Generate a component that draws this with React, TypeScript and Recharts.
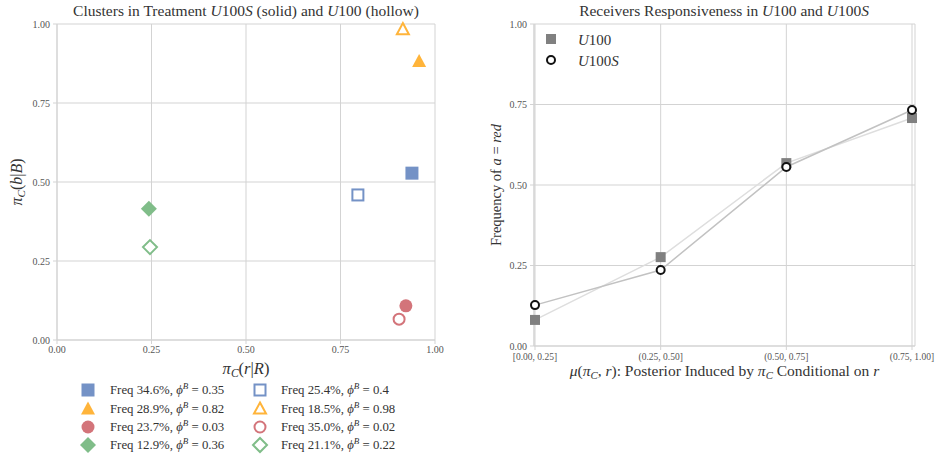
import React from 'react';
import { ScatterChart, Scatter, LineChart, Line, XAxis, YAxis, CartesianGrid, Label } from 'recharts';

const FONT = 'Liberation Serif, DejaVu Serif, serif';
const GRID = '#d3d3d3';
const TICK = { fontSize: 10, fill: '#555', style: { fontFamily: FONT } };
const TXT = { fontFamily: FONT };

// left panel: clusters
const clusterColors = ['#7492c6', '#ffb43a', '#d3747a', '#80bd89'];
const clusterShapes = ['square', 'triangle', 'circle', 'diamond'];
const solidX = [0.939, 0.958, 0.923, 0.243];
const solidY = [0.528, 0.883, 0.108, 0.415];
const hollowX = [0.796, 0.915, 0.905, 0.246];
const hollowY = [0.459, 0.984, 0.066, 0.294];
const solidFreq = ['34.6%', '28.9%', '23.7%', '12.9%'];
const solidPhi = ['0.35', '0.82', '0.03', '0.36'];
const hollowFreq = ['25.4%', '18.5%', '35.0%', '21.1%'];
const hollowPhi = ['0.4', '0.98', '0.02', '0.22'];
const unitTicks = [0, 0.25, 0.5, 0.75, 1];

// right panel: responsiveness
const bins = ['[0.00, 0.25]', '(0.25, 0.50]', '(0.50, 0.75]', '(0.75, 1.00]'];
const u100 = [0.081, 0.276, 0.568, 0.708];
const u100s = [0.127, 0.236, 0.556, 0.733];

const respData = bins.map((b, i) => ({ bin: b, u100: u100[i], u100s: u100s[i] }));

const Marker = ({ cx, cy, shape, color, hollow }: any) => {
  const fill = hollow ? '#fff' : color;
  const sw = hollow ? 2 : 0;
  if (shape === 'square') {
    const h = hollow ? 5.5 : 6.5;
    return <rect x={cx - h} y={cy - h} width={h * 2} height={h * 2} fill={fill} stroke={color} strokeWidth={sw} />;
  }
  if (shape === 'triangle') {
    const h = hollow ? 6 : 7;
    return <polygon points={`${cx},${cy - h} ${cx + h},${cy + h * 0.85} ${cx - h},${cy + h * 0.85}`} fill={fill} stroke={color} strokeWidth={sw} />;
  }
  if (shape === 'circle') {
    return <circle cx={cx} cy={cy} r={hollow ? 5.5 : 6.5} fill={fill} stroke={color} strokeWidth={sw} />;
  }
  const h = hollow ? 7 : 8;
  return <polygon points={`${cx},${cy - h} ${cx + h},${cy} ${cx},${cy + h} ${cx - h},${cy}`} fill={fill} stroke={color} strokeWidth={sw} />;
};

const fmt = (v: number) => v.toFixed(2);

// π with subscript C, followed by text put back on the baseline
const PiC = ({ size, after }: any) => (
  <>
    <tspan fontStyle="italic">π</tspan>
    <tspan fontStyle="italic" fontSize={size * 0.7} dy={3}>C</tspan>
    <tspan dy={-3}>{after}</tspan>
  </>
);

const LeftXLabel = ({ viewBox }: any) => {
  const x = viewBox.x + viewBox.width / 2;
  return (
    <text x={x} y={viewBox.y + 34} textAnchor="middle" fontSize={16.5} style={TXT} fill="#333">
      <PiC size={16.5} after="(" /><tspan fontStyle="italic">r</tspan>|<tspan fontStyle="italic">R</tspan>)
    </text>
  );
};

const LeftYLabel = ({ viewBox }: any) => {
  const cy = viewBox.y + viewBox.height / 2;
  return (
    <text x={22} y={cy} transform={`rotate(-90 22 ${cy})`} textAnchor="middle" fontSize={16} style={TXT} fill="#333">
      <PiC size={16} after="(" /><tspan fontStyle="italic">b</tspan>|<tspan fontStyle="italic">B</tspan>)
    </text>
  );
};

const RightXLabel = ({ viewBox }: any) => {
  const x = viewBox.x + viewBox.width / 2;
  return (
    <text x={x} y={viewBox.y + 30} textAnchor="middle" fontSize={15.5} style={TXT} fill="#333">
      <tspan fontStyle="italic">μ</tspan>(<PiC size={15.5} after=", " /><tspan fontStyle="italic">r</tspan>): Posterior Induced by <PiC size={15.5} after=" Conditional on " /><tspan fontStyle="italic">r</tspan>
    </text>
  );
};

const RightYLabel = ({ viewBox }: any) => {
  const cy = viewBox.y + viewBox.height / 2;
  return (
    <text x={31} y={cy} transform={`rotate(-90 31 ${cy})`} textAnchor="middle" fontSize={14.5} style={TXT} fill="#333">
      Frequency of <tspan fontStyle="italic">a</tspan> = <tspan fontStyle="italic">red</tspan>
    </text>
  );
};

const LegendText = ({ x, y, freq, phi }: any) => (
  <text x={x} y={y} fontSize={12.8} style={TXT} fill="#333">
    Freq {freq}, <tspan fontStyle="italic">ϕ</tspan><tspan fontStyle="italic" fontSize={9} dy={-5}>B</tspan><tspan dy={5}> = {phi}</tspan>
  </text>
);

const Squarish = (props: any) => {
  const { cx, cy } = props;
  return <rect x={cx - 5} y={cy - 5} width={10} height={10} fill="#808080" />;
};

const Ring = (props: any) => {
  const { cx, cy } = props;
  return <circle cx={cx} cy={cy} r={4} fill="#fff" stroke="#111" strokeWidth={2} />;
};

export default function App() {
  const legendRows = [390, 408.5, 427, 445];
  return (
    <div style={{ position: 'absolute', left: 0, top: 0, width: 937, height: 456, background: '#fff', fontFamily: FONT }}>
      <div style={{ position: 'absolute', left: 0, top: 0 }}>
        <ScatterChart width={470} height={380} margin={{ top: 24, right: 35, bottom: 0, left: 0 }}>
          <CartesianGrid stroke={GRID} />
          <XAxis type="number" dataKey="x" domain={[0, 1]} ticks={unitTicks} tickFormatter={fmt} height={40}
            stroke={GRID} tickSize={4} tick={TICK} tickMargin={2} interval={0}>
            <Label content={<LeftXLabel />} />
          </XAxis>
          <YAxis type="number" dataKey="y" domain={[0, 1]} ticks={unitTicks} tickFormatter={fmt} width={57}
            stroke={GRID} tickSize={4} tick={TICK} tickMargin={3} interval={0}>
            <Label content={<LeftYLabel />} />
          </YAxis>
          {clusterColors.map((c, i) => (
            <Scatter key={'h' + i} data={[{ x: hollowX[i], y: hollowY[i] }]} isAnimationActive={false}
              shape={(p: any) => <Marker cx={p.cx} cy={p.cy} shape={clusterShapes[i]} color={c} hollow />} />
          ))}
          {clusterColors.map((c, i) => (
            <Scatter key={'s' + i} data={[{ x: solidX[i], y: solidY[i] }]} isAnimationActive={false}
              shape={(p: any) => <Marker cx={p.cx} cy={p.cy} shape={clusterShapes[i]} color={c} />} />
          ))}
        </ScatterChart>
      </div>

      <div style={{ position: 'absolute', left: 470, top: 0 }}>
        <LineChart width={467} height={400} data={respData} margin={{ top: 24, right: 22, bottom: 0, left: 0 }}>
          <CartesianGrid stroke={GRID} />
          <XAxis dataKey="bin" height={54} padding={{ left: 1, right: 3 }} stroke={GRID} tickSize={4}
            tick={{ ...TICK, fontSize: 9.5 }} tickMargin={3} interval={0}>
            <Label content={<RightXLabel />} />
          </XAxis>
          <YAxis type="number" domain={[0, 1]} ticks={unitTicks} tickFormatter={fmt} width={64}
            stroke={GRID} tickSize={4} tick={TICK} tickMargin={3} interval={0}>
            <Label content={<RightYLabel />} />
          </YAxis>
          <Line dataKey="u100" stroke="#dedede" strokeWidth={1.5} dot={<Squarish />} isAnimationActive={false} />
          <Line dataKey="u100s" stroke="#c2c2c2" strokeWidth={1.5} dot={<Ring />} isAnimationActive={false} />
        </LineChart>
      </div>

      <svg width={937} height={456} style={{ position: 'absolute', left: 0, top: 0, pointerEvents: 'none' }}>
        <text x={246} y={16} textAnchor="middle" fontSize={15.5} style={TXT} fill="#333">
          Clusters in Treatment <tspan fontStyle="italic">U</tspan>100<tspan fontStyle="italic">S</tspan> (solid) and <tspan fontStyle="italic">U</tspan>100 (hollow)
        </text>
        <text x={724} y={16} textAnchor="middle" fontSize={15.5} style={TXT} fill="#333">
          Receivers Responsiveness in <tspan fontStyle="italic">U</tspan>100 and <tspan fontStyle="italic">U</tspan>100<tspan fontStyle="italic">S</tspan>
        </text>

        {legendRows.map((y, i) => (
          <g key={'l' + i}>
            <Marker cx={88} cy={y} shape={clusterShapes[i]} color={clusterColors[i]} />
            <LegendText x={110} y={y + 4} freq={solidFreq[i]} phi={solidPhi[i]} />
            <Marker cx={260} cy={y} shape={clusterShapes[i]} color={clusterColors[i]} hollow />
            <LegendText x={281} y={y + 4} freq={hollowFreq[i]} phi={hollowPhi[i]} />
          </g>
        ))}

        <rect x={546} y={34} width={10} height={10} fill="#808080" />
        <text x={578} y={45} fontSize={15} style={TXT} fill="#333"><tspan fontStyle="italic">U</tspan>100</text>
        <circle cx={551} cy={60} r={4} fill="#fff" stroke="#111" strokeWidth={2} />
        <text x={578} y={66} fontSize={15} style={TXT} fill="#333"><tspan fontStyle="italic">U</tspan>100<tspan fontStyle="italic">S</tspan></text>
      </svg>
    </div>
  );
}
